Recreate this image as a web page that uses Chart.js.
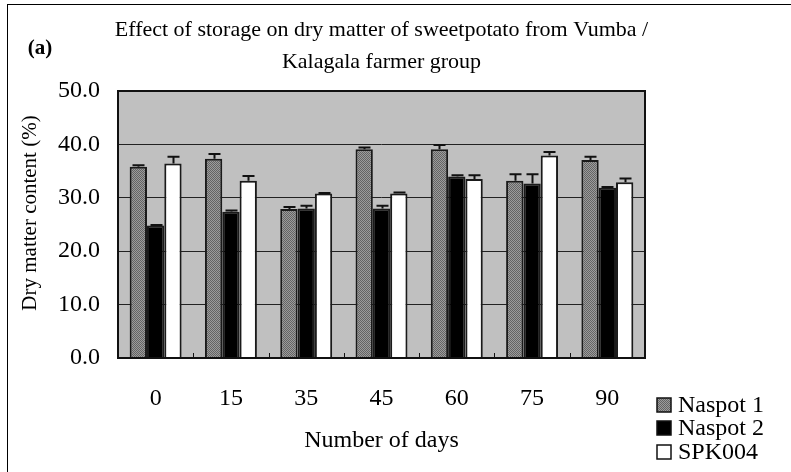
<!DOCTYPE html>
<html>
<head>
<meta charset="utf-8">
<style>
  html, body { margin: 0; padding: 0; background: #fff; }
  #wrap { width: 791px; height: 472px; }
</style>
<script src="https://cdn.jsdelivr.net/npm/chart.js@4/dist/chart.umd.min.js"></script>
</head>
<body>
<div id="wrap"><canvas id="c" width="791" height="472"></canvas></div>
<script>
// Storage days and dry matter content (%) per variety, with upper error values
const days = ['0', '15', '35', '45', '60', '75', '90'];
const naspot1 = [35.8, 37.3, 27.9, 39.1, 39.1, 33.2, 37.1];
const naspot1Err = [0.3, 0.9, 0.4, 0.3, 0.8, 1.2, 0.6];
const naspot2 = [24.8, 27.4, 28.0, 28.0, 34.0, 32.7, 31.9];
const naspot2Err = [0.1, 0.2, 0.5, 0.5, 0.2, 1.7, 0.1];
const spk004 = [36.4, 33.2, 30.8, 30.8, 33.5, 37.9, 32.9];
const spk004Err = [1.3, 0.9, 0.1, 0.2, 0.7, 0.7, 0.7];
const yTicks = [0, 10, 20, 30, 40, 50];

const SERIF = '"Liberation Serif", "Times New Roman", serif';

// fine diagonal stipple used for Naspot 1
function stipple() {
  const c = document.createElement('canvas');
  c.width = 4; c.height = 4;
  const g = c.getContext('2d');
  g.fillStyle = '#9c9c9c';
  g.fillRect(0, 0, 4, 4);
  g.fillStyle = '#646464';
  for (let i = 0; i < 4; i++) {
    g.fillRect(i, i, 1, 1);
    g.fillRect(i, (i + 2) % 4, 1, 1);
  }
  return g.createPattern(c, 'repeat');
}
const hatch = stipple();

const errors = [naspot1Err, naspot2Err, spk004Err];

const decor = {
  id: 'decor',
  beforeDraw(chart) {
    const { ctx, chartArea: a } = chart;
    ctx.save();
    ctx.fillStyle = '#c0c0c0';
    ctx.fillRect(a.left, a.top, a.right - a.left, a.bottom - a.top);
    ctx.restore();
  },
  afterDatasetsDraw(chart) {
    const { ctx } = chart;
    const ys = chart.scales.y;
    ctx.save();
    ctx.strokeStyle = '#111';
    ctx.lineWidth = 2;
    chart.data.datasets.forEach((ds, di) => {
      const meta = chart.getDatasetMeta(di);
      meta.data.forEach((bar, i) => {
        const top = ys.getPixelForValue(ds.data[i] + errors[di][i]);
        const x = Math.round(bar.x) + 0.5;
        ctx.beginPath();
        ctx.moveTo(x, bar.y);
        ctx.lineTo(x, top);
        ctx.moveTo(x - 6, top);
        ctx.lineTo(x + 6, top);
        ctx.stroke();
      });
    });
    ctx.restore();
  },
  afterDraw(chart) {
    const { ctx, chartArea: a } = chart;
    const xs = chart.scales.x;
    ctx.save();
    // plot frame
    ctx.strokeStyle = '#111';
    ctx.lineWidth = 2;
    ctx.strokeRect(a.left, a.top, a.right - a.left, a.bottom - a.top);
    // small marks between day groups
    ctx.lineWidth = 1;
    for (let i = 1; i < days.length; i++) {
      const bx = Math.round((xs.getPixelForValue(i - 1) + xs.getPixelForValue(i)) / 2) + 0.5;
      ctx.beginPath();
      ctx.moveTo(bx, a.bottom);
      ctx.lineTo(bx, a.bottom - 5);
      ctx.stroke();
    }
    // outer frame
    ctx.strokeStyle = '#000';
    ctx.lineWidth = 1;
    ctx.strokeRect(7.5, 4.5, 800, 500);

    ctx.fillStyle = '#000';
    ctx.textAlign = 'center';
    ctx.textBaseline = 'middle';
    // title
    ctx.font = '22px ' + SERIF;
    const cx = (a.left + a.right) / 2;
    ctx.fillText('Effect of storage on dry matter of sweetpotato from Vumba /', cx, 30);
    ctx.fillText('Kalagala farmer group', cx, 62);
    // panel letter
    ctx.font = 'bold 21px ' + SERIF;
    ctx.fillText('(a)', 40, 49);
    // y-axis title
    ctx.save();
    ctx.translate(30, 213);
    ctx.rotate(-Math.PI / 2);
    ctx.font = '21px ' + SERIF;
    ctx.fillText('Dry matter content (%)', 0, 0);
    ctx.restore();
    // legend
    const items = [
      { label: chart.data.datasets[0].label, fill: hatch },
      { label: chart.data.datasets[1].label, fill: '#000' },
      { label: chart.data.datasets[2].label, fill: '#fff' }
    ];
    const rows = [405, 428, 452];
    ctx.font = '24px ' + SERIF;
    ctx.textAlign = 'left';
    items.forEach((it, k) => {
      const y = rows[k];
      ctx.fillStyle = it.fill;
      ctx.fillRect(657, y - 7, 14, 14);
      ctx.strokeStyle = '#111';
      ctx.lineWidth = 1.5;
      ctx.strokeRect(657, y - 7, 14, 14);
      ctx.fillStyle = '#000';
      ctx.fillText(it.label, 678, y + 1);
    });
    ctx.restore();
  }
};

const barStyle = { borderColor: '#1a1a1a', borderWidth: 2, borderSkipped: 'bottom' };

new Chart(document.getElementById('c'), {
  type: 'bar',
  data: {
    labels: days,
    datasets: [
      Object.assign({ label: 'Naspot 1', data: naspot1, backgroundColor: hatch }, barStyle),
      Object.assign({ label: 'Naspot 2', data: naspot2, backgroundColor: '#000' }, barStyle),
      Object.assign({ label: 'SPK004', data: spk004, backgroundColor: '#fff' }, barStyle)
    ]
  },
  options: {
    responsive: false,
    animation: false,
    devicePixelRatio: 1,
    categoryPercentage: 0.69,
    barPercentage: 1.0,
    layout: { padding: { left: 0, top: 91, right: 146, bottom: 0 } },
    plugins: { legend: { display: false }, title: { display: false }, tooltip: { enabled: false } },
    scales: {
      x: {
        grid: { display: false },
        border: { display: false },
        ticks: { color: '#000', font: { family: SERIF, size: 24 }, padding: 18 },
        title: {
          display: true,
          text: 'Number of days',
          color: '#000',
          font: { family: SERIF, size: 24 },
          padding: { top: 0, bottom: 17 }
        },
        afterFit(s) { s.height = 114; }
      },
      y: {
        min: 0,
        max: 50,
        afterBuildTicks(s) { s.ticks = yTicks.map(v => ({ value: v })); },
        ticks: {
          color: '#000',
          font: { family: SERIF, size: 24 },
          padding: 18,
          callback: v => Number(v).toFixed(1)
        },
        grid: { color: '#222', lineWidth: 1, drawTicks: false },
        border: { display: false },
        afterFit(s) { s.width = 118; }
      }
    }
  },
  plugins: [decor]
});
</script>
</body>
</html>
